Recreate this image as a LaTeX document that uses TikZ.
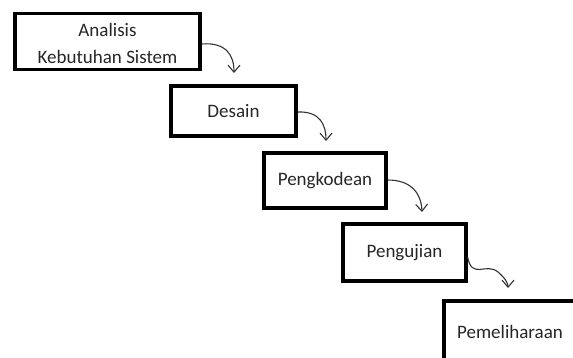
\documentclass[tikz,border=0pt]{standalone}
\usepackage{fontspec}
\setmainfont{Carlito}
\usetikzlibrary{arrows.meta}
\begin{document}
\begin{tikzpicture}[x=1pt,y=-1pt,
  box/.style={draw=black,line width=3.2pt,rectangle,inner sep=0pt,
    font=\fontsize{19}{29}\selectfont,text=black!85,align=center},
  flow/.style={draw=black!80,line width=1.1pt,
    -{Straight Barb[length=7pt,width=12pt,line width=1.1pt]}}]
\useasboundingbox (0,0) rectangle (573,358);
\begin{scope}
\clip (0,0) rectangle (573,358);
\node[box,minimum width=185pt,minimum height=56pt] (b1) at (107.5,41.5) {};
\node[font=\fontsize{19}{27}\selectfont,text=black!85,align=center] (t1) at (107.5,43) {Analisis\\Kebutuhan Sistem};
\node[box,minimum width=125pt,minimum height=50pt] (b2) at (233.5,111) {Desain};
\node[box,minimum width=122pt,minimum height=55pt] (b3) at (325,180.5) {Pengkodean};
\node[box,minimum width=123pt,minimum height=57pt] (b4) at (404.5,252.5) {Pengujian};
\node[box,minimum width=132pt,minimum height=62pt] (b5) at (510,332) {Pemeliharaan};
\end{scope}
\coordinate (e1) at (234,73);
\coordinate (e2) at (326,141);
\coordinate (e3) at (422,212);
\coordinate (e4) at (508,288);
\draw[flow] (b1.east |- 0,44) .. controls (226,42) and (234,55) .. (e1);
\draw[flow] (b2.east |- 0,112) .. controls (321,111) and (326,126) .. (e2);
\draw[flow] (b3.east |- 0,180) .. controls (408,180) and (421,190) .. (e3);
\draw[flow] (b4.east |- 0,257) .. controls (472,280) and (486,262) .. (498,272) .. controls (505,278) and (508,283) .. (e4);
\end{tikzpicture}
\end{document}
